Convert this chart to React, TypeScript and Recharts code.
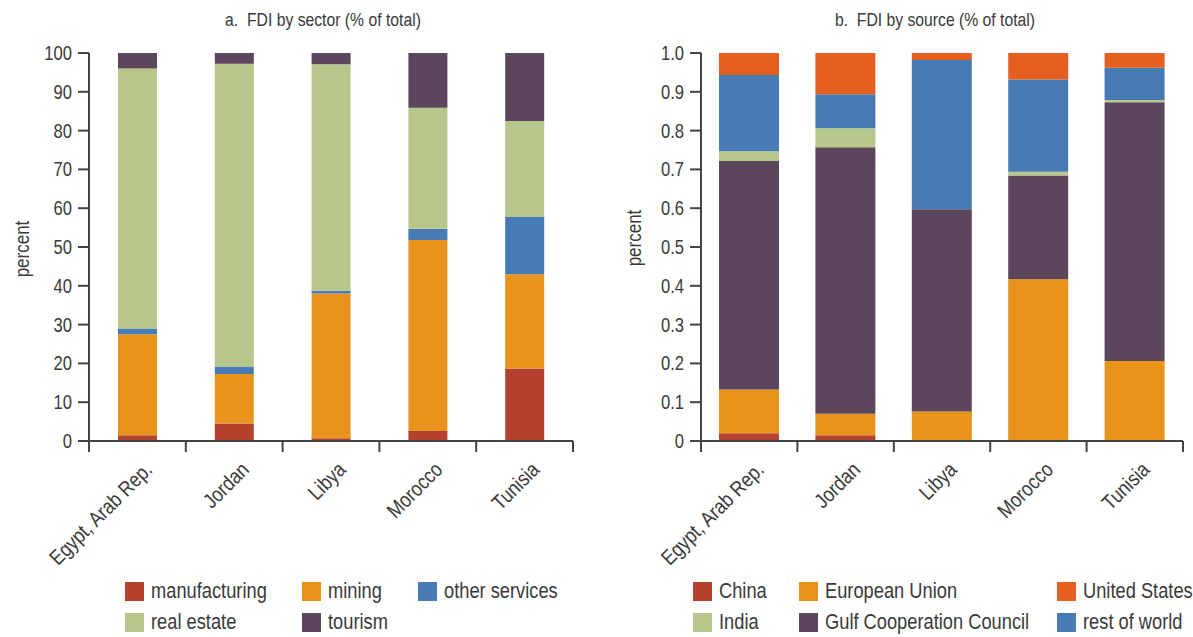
import { BarChart, Bar, XAxis, YAxis } from 'recharts';

// categories
const countries = ['Egypt, Arab Rep.', 'Jordan', 'Libya', 'Morocco', 'Tunisia'];

// a. FDI by sector (% of total)
const manufacturing = [1.5, 4.5, 0.7, 2.6, 18.7];
const mining = [26, 12.8, 37.3, 49.2, 24.3];
const otherServices = [1.5, 1.9, 0.7, 2.9, 14.7];
const realEstate = [67, 78, 58.4, 31.2, 24.8];
const tourism = [4, 2.8, 2.9, 14.1, 17.5];
const sectorTicks = [0, 10, 20, 30, 40, 50, 60, 70, 80, 90, 100];

// b. FDI by source (share of total)
const china = [0.02, 0.015, 0, 0, 0];
const europeanUnion = [0.113, 0.055, 0.076, 0.417, 0.206];
const gulfCouncil = [0.589, 0.687, 0.521, 0.267, 0.667];
const india = [0.025, 0.049, 0, 0.01, 0.006];
const restOfWorld = [0.196, 0.088, 0.385, 0.238, 0.083];
const unitedStates = [0.057, 0.106, 0.018, 0.068, 0.038];
const sourceTicks = [0, 0.1, 0.2, 0.3, 0.4, 0.5, 0.6, 0.7, 0.8, 0.9, 1.0];

const sectorKeys = ['manufacturing', 'mining', 'other services', 'real estate', 'tourism'];
const sourceKeys = ['China', 'European Union', 'Gulf Cooperation Council', 'India', 'rest of world', 'United States'];
const sourceLegendOrder = ['China', 'European Union', 'United States', 'India', 'Gulf Cooperation Council', 'rest of world'];

const COLOR: Record<string, string> = {
  manufacturing: '#b5422e',
  mining: '#e8941c',
  'other services': '#477bb4',
  'real estate': '#b7c68a',
  tourism: '#5c465c',
  China: '#b5422e',
  'European Union': '#e8941c',
  'Gulf Cooperation Council': '#5c465c',
  India: '#b7c68a',
  'rest of world': '#477bb4',
  'United States': '#e45f20',
};

// no condensed face installed -> squeeze Liberation Sans horizontally
const FONT = "'Liberation Sans', Arial, sans-serif";
const SQ = 0.85;
const INK = '#3a3a3a';
const AXIS = '#444';

const sectorData = countries.map((c, i) => ({
  country: c,
  manufacturing: manufacturing[i],
  mining: mining[i],
  'other services': otherServices[i],
  'real estate': realEstate[i],
  tourism: tourism[i],
}));

const sourceData = countries.map((c, i) => ({
  country: c,
  China: china[i],
  'European Union': europeanUnion[i],
  'Gulf Cooperation Council': gulfCouncil[i],
  India: india[i],
  'rest of world': restOfWorld[i],
  'United States': unitedStates[i],
}));

// category tick: rotated label + boundary tick marks between bars
function CatTick(props: any) {
  const { x, y, payload, index, visibleTicksCount, half } = props;
  const h = typeof payload?.offset === 'number' && payload.offset > 0 ? payload.offset : half;
  const lx = x + 16;
  const ly = y + 30;
  return (
    <g>
      <line x1={x - h} y1={y} x2={x - h} y2={y + 11} stroke={AXIS} strokeWidth={2} />
      {index === visibleTicksCount - 1 && (
        <line x1={x + h} y1={y} x2={x + h} y2={y + 11} stroke={AXIS} strokeWidth={2} />
      )}
      <text
        x={0} y={0}
        textAnchor="end"
        fill={INK}
        fontSize={21}
        fontFamily={FONT}
        transform={`translate(${lx} ${ly}) rotate(-45) scale(${SQ} 1)`}
      >
        {payload.value}
      </text>
    </g>
  );
}

function NumTick(props: any) {
  const { x, y, payload, fmt } = props;
  const v = payload.value as number;
  return (
    <text
      x={0} y={0} dy="0.355em"
      textAnchor="end"
      fill={INK}
      fontSize={19.5}
      fontFamily={FONT}
      transform={`translate(${x} ${y}) scale(${SQ} 1)`}
    >
      {fmt ? fmt(v) : String(v)}
    </text>
  );
}

const fmtShare = (v: number) => (v === 0 ? '0' : v.toFixed(1));

function LegendItem({ label, left, top }: { label: string; left: number; top: number }) {
  return (
    <div style={{ position: 'absolute', left, top, display: 'flex', alignItems: 'center', gap: 7 }}>
      <span style={{ width: 19, height: 19, background: COLOR[label], display: 'inline-block', flex: 'none' }} />
      <span style={{
        fontSize: 21.5, lineHeight: '19px', color: INK, fontFamily: FONT, whiteSpace: 'nowrap',
        display: 'inline-block', transform: `scaleX(${SQ})`, transformOrigin: 'left center',
      }}>{label}</span>
    </div>
  );
}

function Title({ text, center }: { text: string; center: number }) {
  return (
    <div style={{
      position: 'absolute', left: center - 200, width: 400, top: 10, textAlign: 'center',
      fontSize: 18.5, lineHeight: '20px', color: INK, fontFamily: FONT, whiteSpace: 'pre',
      transform: `scaleX(${SQ})`, transformOrigin: 'center',
    }}>{text}</div>
  );
}

function YLabel({ cx, cy }: { cx: number; cy: number }) {
  return (
    <div style={{
      position: 'absolute', left: cx, top: cy,
      transform: `translate(-50%, -50%) rotate(-90deg) scaleX(${SQ})`,
      fontSize: 20, lineHeight: '20px', color: INK, fontFamily: FONT, whiteSpace: 'nowrap',
    }}>percent</div>
  );
}

export default function App() {
  const sectorCols = [125, 302, 418, 125, 302];
  const sectorRows = [582, 582, 582, 613, 613];
  const sourceCols = [693, 799, 1057, 693, 799, 1057];
  const sourceRows = [582, 582, 582, 613, 613, 613];

  return (
    <div style={{ position: 'absolute', left: 0, top: 0, width: 1193, height: 637, background: '#fff', overflow: 'hidden' }}>
      <Title text="a.  FDI by sector (% of total)" center={323} />
      <Title text="b.  FDI by source (% of total)" center={935} />
      <YLabel cx={22} cy={249} />
      <YLabel cx={634} cy={238} />

      <div style={{ position: 'absolute', left: 0, top: 0 }}>
        <BarChart width={600} height={578} data={sectorData} margin={{ top: 53, right: 27, bottom: 37, left: 0 }}>
          <XAxis
            dataKey="country"
            interval={0}
            tickSize={0}
            tickMargin={0}
            height={100}
            axisLine={{ stroke: AXIS, strokeWidth: 2 }}
            tick={<CatTick half={48.4} />}
          />
          <YAxis
            width={89}
            domain={[0, 100]}
            ticks={sectorTicks}
            interval={0}
            tickSize={11}
            tickMargin={6}
            axisLine={{ stroke: AXIS, strokeWidth: 2 }}
            tickLine={{ stroke: AXIS, strokeWidth: 2 }}
            tick={<NumTick />}
          />
          {sectorKeys.map(k => (
            <Bar key={k} dataKey={k} stackId="s" fill={COLOR[k]} barSize={39} isAnimationActive={false} />
          ))}
        </BarChart>
      </div>

      <div style={{ position: 'absolute', left: 600, top: 0 }}>
        <BarChart width={593} height={578} data={sourceData} margin={{ top: 53, right: 10, bottom: 37, left: 0 }}>
          <XAxis
            dataKey="country"
            interval={0}
            tickSize={0}
            tickMargin={0}
            height={100}
            axisLine={{ stroke: AXIS, strokeWidth: 2 }}
            tick={<CatTick half={48.2} />}
          />
          <YAxis
            width={101}
            domain={[0, 1]}
            ticks={sourceTicks}
            interval={0}
            tickSize={11}
            tickMargin={6}
            axisLine={{ stroke: AXIS, strokeWidth: 2 }}
            tickLine={{ stroke: AXIS, strokeWidth: 2 }}
            tick={<NumTick fmt={fmtShare} />}
          />
          {sourceKeys.map(k => (
            <Bar key={k} dataKey={k} stackId="s" fill={COLOR[k]} barSize={60} isAnimationActive={false} />
          ))}
        </BarChart>
      </div>

      {sectorKeys.map((k, i) => (
        <LegendItem key={k} label={k} left={sectorCols[i]} top={sectorRows[i]} />
      ))}
      {sourceLegendOrder.map((k, i) => (
        <LegendItem key={k} label={k} left={sourceCols[i]} top={sourceRows[i]} />
      ))}
    </div>
  );
}
